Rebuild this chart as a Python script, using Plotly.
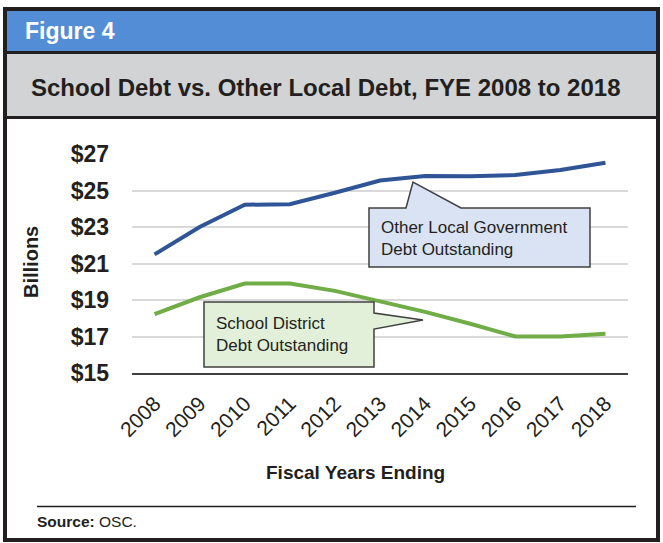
import plotly.graph_objects as go

years = ["2008", "2009", "2010", "2011", "2012", "2013", "2014", "2015", "2016", "2017", "2018"]
other_local = [21.5, 23.0, 24.22, 24.25, 24.88, 25.55, 25.8, 25.78, 25.85, 26.12, 26.52]
school_district = [18.22, 19.15, 19.9, 19.9, 19.5, 18.95, 18.35, 17.7, 17.0, 17.0, 17.15]
y_ticks = [15, 17, 19, 21, 23, 25, 27]
y_tick_labels = ["$15", "$17", "$19", "$21", "$23", "$25", "$27"]

W, H = 663, 543
L, R, T, B = 132, 628, 154, 373
FONT = "Liberation Sans, Arial, Helvetica, sans-serif"
DARK = "#231f20"

def px(x):
    return (x - L) / (R - L)

def py(y):
    return (B - y) / (B - T)

fig = go.Figure()
fig.add_trace(go.Scatter(x=years, y=other_local, mode="lines",
                         line=dict(color="#2f5597", width=4), name="Other Local Government Debt Outstanding"))
fig.add_trace(go.Scatter(x=years, y=school_district, mode="lines",
                         line=dict(color="#70ad47", width=4), name="School District Debt Outstanding"))

shapes = []
# header
shapes.append(dict(type="rect", xref="paper", yref="paper", x0=px(6), x1=px(657), y0=py(11), y1=py(52),
                   fillcolor="#538dd5", line=dict(width=0), layer="below"))
shapes.append(dict(type="rect", xref="paper", yref="paper", x0=px(6), x1=px(657), y0=py(54), y1=py(116),
                   fillcolor="#d1d3d4", line=dict(width=0), layer="below"))
shapes.append(dict(type="line", xref="paper", yref="paper", x0=px(5), x1=px(658), y0=py(52.5), y1=py(52.5),
                   line=dict(color=DARK, width=3)))
shapes.append(dict(type="line", xref="paper", yref="paper", x0=px(5), x1=px(658), y0=py(117.5), y1=py(117.5),
                   line=dict(color=DARK, width=3)))
# outer frame
shapes.append(dict(type="rect", xref="paper", yref="paper", x0=px(5), x1=px(658), y0=py(9), y1=py(540),
                   line=dict(color=DARK, width=4)))
# source separator
shapes.append(dict(type="line", xref="paper", yref="paper", x0=px(37), x1=px(636), y0=py(506.5), y1=py(506.5),
                   line=dict(color=DARK, width=1.5)))

def path(points):
    return "M " + " L ".join(f"{px(a):.5f},{py(b):.5f}" for a, b in points) + " Z"

blue_box = [(369, 208), (406, 208), (413, 182), (461, 208), (590, 208), (590, 267), (369, 267)]
green_box = [(204, 302), (374, 302), (374, 313), (423, 320), (374, 329), (374, 367), (204, 367)]
shapes.append(dict(type="path", xref="paper", yref="paper", path=path(blue_box),
                   fillcolor="#dae3f3", line=dict(color="#404040", width=1.5)))
shapes.append(dict(type="path", xref="paper", yref="paper", path=path(green_box),
                   fillcolor="#e2efd9", line=dict(color="#404040", width=1.5)))

annotations = []
def text(x, y, s, size, color=DARK, xanchor="left", bold=False, angle=0):
    if bold:
        s = f"<b>{s}</b>"
    annotations.append(dict(x=px(x), y=py(y), xref="paper", yref="paper", text=s, showarrow=False,
                            xanchor=xanchor, yanchor="middle", textangle=angle,
                            font=dict(family=FONT, size=size, color=color)))

text(23, 31, "Figure 4", 23, color="white", bold=True)
text(29, 88, "School Debt vs. Other Local Debt, FYE 2008 to 2018", 24, bold=True)
text(31, 262, "Billions", 20, xanchor="center", bold=True, angle=-90)
text(355, 472, "Fiscal Years Ending", 19, xanchor="center", bold=True)
text(35, 521, "<b>Source:</b> OSC.", 15.5)
annotations.append(dict(x=px(379), y=py(238), xref="paper", yref="paper",
                        text="Other Local Government<br>Debt Outstanding", showarrow=False,
                        xanchor="left", yanchor="middle", align="left",
                        font=dict(family=FONT, size=17, color=DARK)))
annotations.append(dict(x=px(214), y=py(334), xref="paper", yref="paper",
                        text="School District<br>Debt Outstanding", showarrow=False,
                        xanchor="left", yanchor="middle", align="left",
                        font=dict(family=FONT, size=17, color=DARK)))

fig.update_layout(
    width=W, height=H,
    margin=dict(l=L, r=W - R, t=T, b=H - B, pad=0),
    paper_bgcolor="white", plot_bgcolor="white",
    showlegend=False,
    shapes=shapes, annotations=annotations,
    font=dict(family=FONT, color=DARK),
)
fig.update_xaxes(type="category", range=[-0.5, 10.5], showgrid=False, showline=True,
                 linecolor="#404040", linewidth=2, tickangle=-45, ticks="",
                 tickfont=dict(family=FONT, size=21, color=DARK), ticklabelstandoff=8)
fig.update_yaxes(range=[15, 27], tickvals=y_ticks, ticktext=[f"<b>{t}</b>" for t in y_tick_labels],
                 showgrid=True, gridcolor="#d9d9d9", gridwidth=1.5, zeroline=False, showline=False,
                 tickfont=dict(family=FONT, size=23, color=DARK), ticklabelstandoff=22)

fig.write_html("out.html")
